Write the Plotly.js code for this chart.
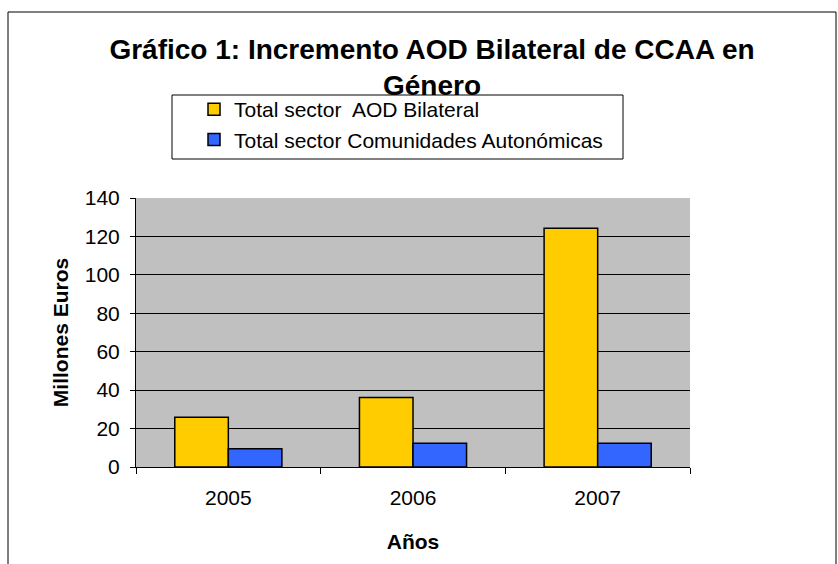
<!DOCTYPE html>
<html>
<head>
<meta charset="utf-8">
<script src="https://cdn.plot.ly/plotly-3.0.1.min.js"></script>
<style>html,body{margin:0;padding:0;background:#fff;}#chart{width:838px;height:564px;}</style>
</head>
<body>
<div id="chart"></div>
<script>
const years = ['2005', '2006', '2007'];
const aodBilateral = [25.9, 36.2, 124.3];
const comunidades = [9.5, 12.4, 12.4];
const seriesNames = ['Total sector\u00A0 AOD Bilateral', 'Total sector Comunidades Autonómicas'];
const yTicks = [0, 20, 40, 60, 80, 100, 120, 140];

const font = 'Liberation Sans, Arial, sans-serif';

const traces = [
  {type: 'bar', x: years, y: aodBilateral, name: seriesNames[0],
   marker: {color: '#FFCC00', line: {color: '#000', width: 1.5}}},
  {type: 'bar', x: years, y: comunidades, name: seriesNames[1],
   marker: {color: '#3366FF', line: {color: '#000', width: 1.5}}}
];

const layout = {
  width: 838, height: 564,
  margin: {l: 136, r: 148, t: 198, b: 97},
  paper_bgcolor: '#fff',
  plot_bgcolor: '#C0C0C0',
  barmode: 'group',
  bargap: 0.42,
  bargroupgap: 0,
  font: {family: font, color: '#000', size: 21},
  title: {
    text: '<b>Gráfico 1: Incremento AOD Bilateral de CCAA en<br>Género</b>',
    font: {family: font, size: 28, color: '#000'},
    x: 432/838, xanchor: 'center', xref: 'container',
    y: 1 - 59/564, yanchor: 'top', yref: 'container'
  },
  showlegend: true,
  legend: {
    x: (194-136)/554, xanchor: 'left', y: (467-89)/269, yanchor: 'top',
    bgcolor: 'rgba(0,0,0,0)', borderwidth: 0,
    font: {family: font, size: 21, color: '#000'}
  },
  xaxis: {
    type: 'category',
    showline: true, linecolor: '#000', linewidth: 1,
    ticks: 'outside', tickson: 'boundaries', ticklen: 6, tickcolor: '#000',
    ticklabelstandoff: 12,
    tickfont: {family: font, size: 21, color: '#000'},
    title: {text: '<b>Años</b>', font: {family: font, size: 21, color: '#000'}, standoff: 26},
    showgrid: false, fixedrange: true
  },
  yaxis: {
    range: [0, 140], tickvals: yTicks,
    showline: true, linecolor: '#000', linewidth: 1,
    ticks: 'outside', ticklen: 5, tickcolor: '#000',
    ticklabelstandoff: 6,
    tickfont: {family: font, size: 21, color: '#000'},
    showgrid: true, gridcolor: '#000', gridwidth: 1,
    zeroline: false,
    title: {text: '<b>Millones Euros</b>', font: {family: font, size: 21, color: '#000'}, standoff: 10},
    fixedrange: true
  },
  shapes: [
    {type: 'rect', xref: 'paper', yref: 'paper',
     x0: (172-136)/554, x1: (623-136)/554, y0: (467-159)/269, y1: (467-95)/269,
     line: {color: '#000', width: 1}, fillcolor: 'rgba(0,0,0,0)'},
    {type: 'rect', xref: 'paper', yref: 'paper',
     x0: (8-136)/554, x1: (836-136)/554, y0: (467-600)/269, y1: (467-12)/269,
     line: {color: '#000', width: 1}, fillcolor: 'rgba(0,0,0,0)'}
  ]
};

Plotly.newPlot('chart', traces, layout, {displayModeBar: false, staticPlot: true});
</script>
</body>
</html>
